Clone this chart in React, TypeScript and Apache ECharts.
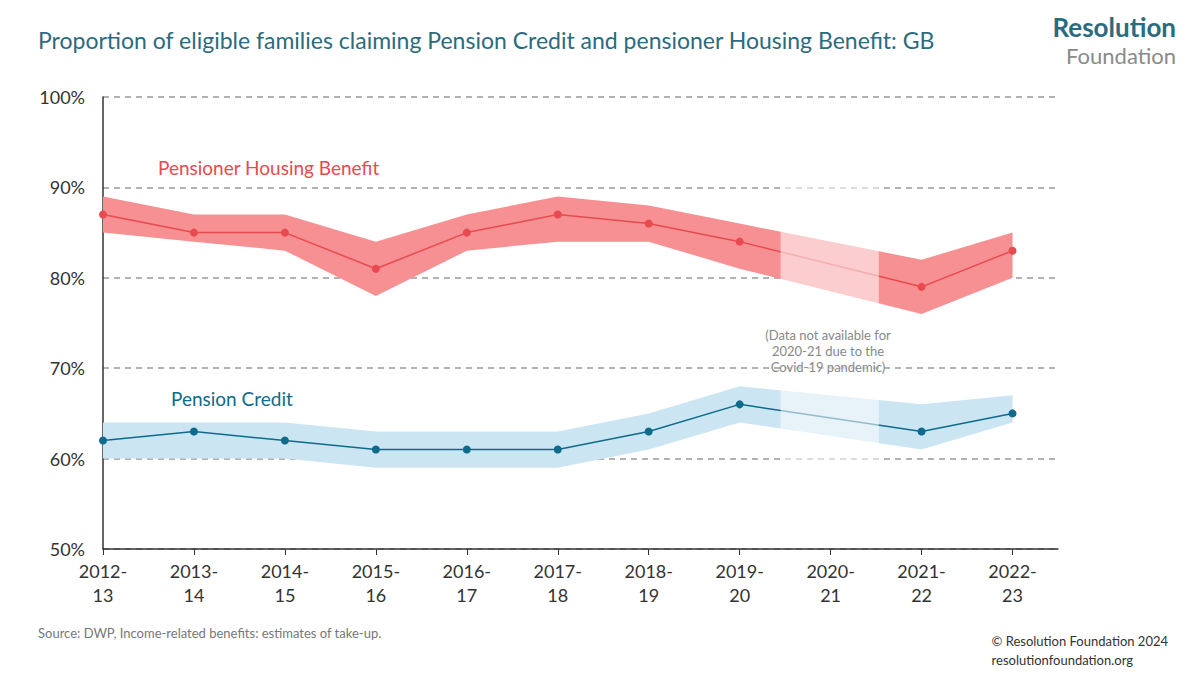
import { useEffect, useRef } from 'react'
import * as echarts from 'echarts'

const categories = ['2012-\n13', '2013-\n14', '2014-\n15', '2015-\n16', '2016-\n17', '2017-\n18', '2018-\n19', '2019-\n20', '2020-\n21', '2021-\n22', '2022-\n23']
// index 8 (2020-21) has no data
const xIdx = [0, 1, 2, 3, 4, 5, 6, 7, 9, 10]
const hbValue = [87, 85, 85, 81, 85, 87, 86, 84, 79, 83]
const hbUpper = [89, 87, 87, 84, 87, 89, 88, 86, 82, 85]
const hbLower = [85, 84, 83, 78, 83, 84, 84, 81, 76, 80]
const pcValue = [62, 63, 62, 61, 61, 61, 63, 66, 63, 65]
const pcUpper = [64, 64, 64, 63, 63, 63, 65, 68, 66, 67]
const pcLower = [60, 60, 60, 59, 59, 59, 61, 64, 61, 64]

const HB = '#e84a4f'
const HB_BAND = '#f69092'
const PC = '#0e6b8c'
const PC_BAND = '#cce5f2'
const FONT = 'Lato, "Open Sans", sans-serif'

function band(lower: number[], upper: number[], color: string) {
  return {
    type: 'custom', silent: true, z: 1,
    data: [0],
    renderItem: (_p: any, api: any) => {
      const top = xIdx.map((x, i) => api.coord([x, upper[i]]))
      const bot = xIdx.map((x, i) => api.coord([x, lower[i]])).reverse()
      return { type: 'polygon', shape: { points: [...top, ...bot] }, style: { fill: color } }
    },
  }
}

export default function App() {
  const ref = useRef<HTMLDivElement | null>(null)

  useEffect(() => {
    if (!ref.current) return
    const chart = echarts.init(ref.current, undefined, { renderer: 'svg' })
    chart.setOption({
      animation: false,
      textStyle: { fontFamily: FONT },
      grid: { left: 103, right: 142, top: 97, bottom: 126 },
      xAxis: {
        type: 'value', min: 0, max: 10.5, interval: 1,
        axisLine: { lineStyle: { color: '#333', width: 1.5 } },
        axisTick: { show: true, length: 6, lineStyle: { color: '#333' } },
        splitLine: { show: false },
        axisLabel: {
          formatter: (v: number) => categories[v] ?? '',
          color: '#333', fontSize: 18, lineHeight: 24, margin: 10, showMaxLabel: false,
        },
      },
      yAxis: {
        type: 'value', min: 50, max: 100, interval: 10,
        axisLine: { show: true, lineStyle: { color: '#333', width: 1.5 } },
        axisTick: { show: false },
        axisLabel: { formatter: '{value}%', color: '#333', fontSize: 18, margin: 18 },
        splitLine: { lineStyle: { color: '#999', type: [6, 5], width: 1.5 } },
      },
      series: [
        band(hbLower, hbUpper, HB_BAND),
        band(pcLower, pcUpper, PC_BAND),
        {
          name: 'hb', type: 'line', symbol: 'circle', symbolSize: 8, z: 3,
          data: xIdx.map((x, i) => [x, hbValue[i]]),
          itemStyle: { color: HB }, lineStyle: { color: HB, width: 1.5 },
        },
        {
          name: 'pc', type: 'line', symbol: 'circle', symbolSize: 8, z: 3,
          data: xIdx.map((x, i) => [x, pcValue[i]]),
          itemStyle: { color: PC }, lineStyle: { color: PC, width: 1.5 },
        },
        {
          // fade over the 2020-21 gap
          type: 'custom', silent: true, z: 5, data: [0],
          renderItem: (_p: any, api: any) => {
            const a = api.coord([7.45, 92])
            const b = api.coord([8.53, 57])
            return { type: 'rect', shape: { x: a[0], y: a[1], width: b[0] - a[0], height: b[1] - a[1] }, style: { fill: 'rgba(255,255,255,0.55)' } }
          },
        },
      ],
      graphic: [
        { type: 'text', z: 100, left: 38, top: 28, style: { text: 'Proportion of eligible families claiming Pension Credit and pensioner Housing Benefit: GB', fill: '#2b6b80', fontSize: 23, fontFamily: FONT } },
        { type: 'text', z: 100, right: 24, top: 14, style: { text: 'Resolution', fill: '#2b6b80', fontSize: 26, fontWeight: 'bold', fontFamily: FONT } },
        { type: 'text', z: 100, right: 24, top: 44, style: { text: 'Foundation', fill: '#8a8a8a', fontSize: 22, fontFamily: FONT } },
        { type: 'text', z: 100, left: 158, top: 158, style: { text: 'Pensioner Housing Benefit', fill: HB, fontSize: 19, fontFamily: FONT } },
        { type: 'text', z: 100, left: 171, top: 389, style: { text: 'Pension Credit', fill: PC, fontSize: 19, fontFamily: FONT } },
        { type: 'text', z: 100, x: 828, y: 327, style: { text: '(Data not available for\n2020-21 due to the\nCovid-19 pandemic)', fill: '#888', fontSize: 13, lineHeight: 16, align: 'center', fontFamily: FONT } },
        { type: 'text', z: 100, left: 38, top: 626, style: { text: 'Source: DWP, Income-related benefits: estimates of take-up.', fill: '#777', fontSize: 13, fontFamily: FONT } },
        { type: 'text', z: 100, right: 32, top: 631, style: { text: '© Resolution Foundation 2024\nresolutionfoundation.org', fill: '#333', fontSize: 13, lineHeight: 19, align: 'right', fontFamily: FONT } },
      ],
    })
    return () => chart.dispose()
  }, [])

  return <div ref={ref} style={{ width: 1200, height: 675, margin: -8, background: '#fff' }} />
}
